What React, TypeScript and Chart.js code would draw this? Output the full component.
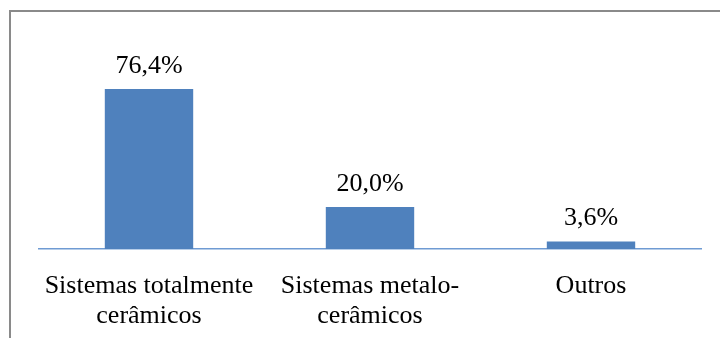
import React, { useEffect, useRef } from "react";
import { Chart, registerables } from "chart.js";

Chart.register(...registerables);

const categories: string[][] = [
  ["Sistemas totalmente", "cerâmicos"],
  ["Sistemas metalo-", "cerâmicos"],
  ["Outros"],
];
const values: number[] = [76.4, 20.0, 3.6];
const valueLabels: string[] = ["76,4%", "20,0%", "3,6%"];

const FONT = "Liberation Serif";

const barLabelPlugin = {
  id: "barLabels",
  afterDatasetsDraw(chart: any) {
    const ctx = chart.ctx;
    const meta = chart.getDatasetMeta(0);
    ctx.save();
    ctx.font = `26px ${FONT}`;
    ctx.fillStyle = "#000";
    ctx.textAlign = "center";
    ctx.textBaseline = "alphabetic";
    meta.data.forEach((bar: any, i: number) => {
      ctx.fillText(valueLabels[i], bar.x, bar.y - 16);
    });
    ctx.restore();
  },
};

export default function App() {
  const ref = useRef<HTMLCanvasElement>(null);
  useEffect(() => {
    const chart = new Chart(ref.current!, {
      type: "bar",
      data: {
        labels: categories,
        datasets: [
          {
            data: values,
            backgroundColor: "#4F81BD",
            borderWidth: 0,
            barPercentage: 0.4,
            categoryPercentage: 1,
          },
        ],
      },
      options: {
        animation: false,
        responsive: false,
        maintainAspectRatio: false,
        layout: { padding: { left: 38.5, right: 18.5, top: 60.5, bottom: 0 } },
        plugins: { legend: { display: false }, tooltip: { enabled: false } },
        scales: {
          x: {
            grid: { display: false, drawTicks: false },
            border: { display: true, color: "#6F9BD3", width: 1.5 },
            ticks: {
              color: "#000",
              padding: 22,
              font: { family: FONT, size: 26, lineHeight: 1.15 },
              maxRotation: 0,
              autoSkip: false,
            },
            afterFit: (scale: any) => {
              scale.height = 89;
            },
          },
          y: {
            display: false,
            min: 0,
            max: 90,
          },
        },
      },
      plugins: [barLabelPlugin],
    });
    return () => chart.destroy();
  }, []);
  return (
    <div style={{ position: "fixed", left: 0, top: 0, width: 720, height: 338, background: "#fff", overflow: "hidden" }}>
      <div
        style={{
          position: "absolute",
          left: 9,
          top: 10,
          width: 800,
          height: 400,
          border: "2px solid #8a8a8a",
          boxSizing: "border-box",
        }}
      />
      <canvas ref={ref} width={720} height={338} style={{ position: "absolute", left: 0, top: 0 }} />
    </div>
  );
}
